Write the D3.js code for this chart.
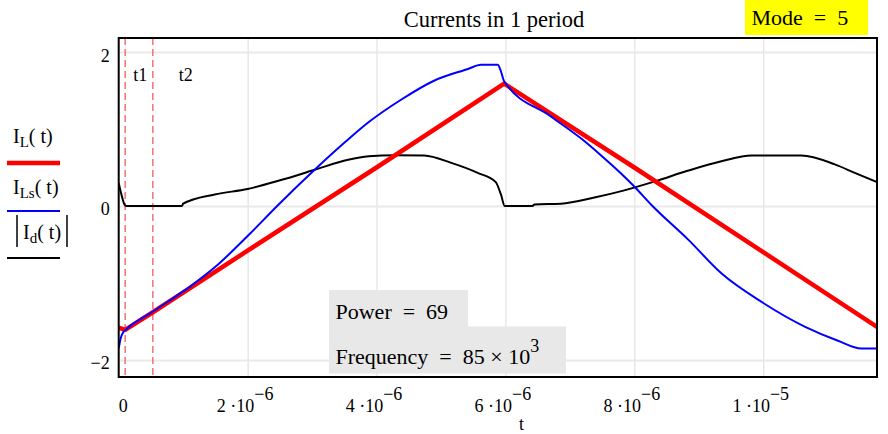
<!DOCTYPE html>
<meta charset="utf-8">
<title>Currents in 1 period</title>
<style>
body { margin: 0; background: #fff; }
svg { font-family: "Liberation Serif", "Times New Roman", serif; }
</style>
<body>
<script src="https://d3js.org/d3.v7.min.js"></script>
<script>
var width = 888, height = 434;
var period = 1 / 85e3;

// times in microseconds, currents in A
var tL  = [0, 0.1, 0.53, 2, 4, 5.98, 8, 10, 11.765];
var iL  = [-1.58, -1.61, -1.38, -0.58, 0.50, 1.59, 0.50, -0.60, -1.57];

var tLs = [0, 0.03, 0.07, 0.12, 0.53, 1.1, 1.5, 2, 2.47, 3.04, 3.5, 3.88, 4.38, 4.9, 5.42, 5.62, 5.88, 5.93, 5.98,
           6.71, 7.2, 7.48, 7.81, 7.98, 8.27, 8.84, 9.35, 10.0, 10.65, 11.16, 11.52, 11.765];
var iLs = [-1.85, -1.72, -1.64, -1.60, -1.37, -1.05, -0.79, -0.39, 0.01, 0.47, 0.82, 1.09, 1.38, 1.63, 1.78, 1.835, 1.835, 1.75, 1.62,
           1.16, 0.86, 0.66, 0.41, 0.27, 0.01, -0.44, -0.875, -1.26, -1.57, -1.75, -1.85, -1.85];

var tD  = [0, 0.03, 0.09, 0.12, 0.53, 0.98, 1.0, 1.49, 2, 2.53, 3.04, 3.56, 3.88, 4.28, 4.74, 5.16, 5.57, 5.85, 5.93, 5.99,
           6.42, 6.45, 6.86, 7.38, 7.83, 8.32, 8.84, 9.35, 9.82, 10.59, 11.11, 11.42, 11.765];
var iD  = [0.30, 0.19, 0.02, 0, 0, 0, 0.03, 0.15, 0.22, 0.34, 0.47, 0.60, 0.645, 0.66, 0.655, 0.56, 0.43, 0.31, 0.15, 0,
           0, 0.02, 0.03, 0.11, 0.20, 0.32, 0.46, 0.58, 0.655, 0.655, 0.54, 0.43, 0.31];

var markerT = [0.1, 0.53];
var markerNames = ["t1", "t2"];

var xTicks = [0, 2e-6, 4e-6, 6e-6, 8e-6, 1e-5];
var xTickText = [["0"], ["2 ·10", "−6"], ["4 ·10", "−6"], ["6 ·10", "−6"], ["8 ·10", "−6"], ["1 ·10", "−5"]];
var yTicks = [-2, 0, 2];

var power = 69, freqK = 85, mode = 5;

// plot box
var pL = 118.7, pR = 877, pT = 38, pB = 377;

var x = d3.scaleLinear().domain([0, period]).range([pL, pR]);
var y = d3.scaleLinear().domain([-2.221, 2.182]).range([pB, pT]);

var svg = d3.select("body").append("svg")
    .attr("width", width)
    .attr("height", height);

// grid
svg.append("g")
    .attr("transform", "translate(0," + pB + ")")
    .call(d3.axisBottom(x).tickValues(xTicks.slice(1)).tickSize(-(pB - pT)).tickFormat(""))
    .call(function(g) {
      g.select(".domain").remove();
      g.selectAll("line").attr("stroke", "#dcdcdc").attr("stroke-width", 1);
    });
svg.append("g")
    .attr("transform", "translate(" + pL + ",0)")
    .call(d3.axisLeft(y).tickValues(yTicks).tickSize(-(pR - pL)).tickFormat(""))
    .call(function(g) {
      g.select(".domain").remove();
      g.selectAll("line").attr("stroke", "#e9e9e9").attr("stroke-width", 2);
    });

// info boxes
svg.append("rect").attr("x", 329).attr("y", 290).attr("width", 139).attr("height", 37).attr("fill", "#e8e8e8");
svg.append("rect").attr("x", 329).attr("y", 326.5).attr("width", 237).attr("height", 47).attr("fill", "#e8e8e8");
svg.append("text").attr("x", 335.5).attr("y", 318.5).attr("font-size", 22)
    .attr("xml:space", "preserve").text("Power  =  " + power);
var fq = svg.append("text").attr("x", 335.5).attr("y", 363.5).attr("font-size", 22).attr("xml:space", "preserve");
fq.append("tspan").text("Frequency  =  " + freqK + " × 10");
fq.append("tspan").attr("dy", -12).attr("font-size", 18).text("3");

svg.append("clipPath").attr("id", "clip")
  .append("rect").attr("x", pL).attr("y", pT).attr("width", pR - pL).attr("height", pB - pT);

var plot = svg.append("g").attr("clip-path", "url(#clip)");

// markers
plot.selectAll(".marker").data(markerT).enter().append("line")
    .attr("x1", function(d) { return x(d * 1e-6); })
    .attr("x2", function(d) { return x(d * 1e-6); })
    .attr("y1", pT).attr("y2", pB)
    .attr("stroke", "#f05a5a").attr("stroke-width", 1.3)
    .attr("stroke-dasharray", "7,4");

var line = d3.line()
    .x(function(d) { return x(d[0] * 1e-6); })
    .y(function(d) { return y(d[1]); });
var smooth = d3.line()
    .curve(d3.curveMonotoneX)
    .x(function(d) { return x(d[0] * 1e-6); })
    .y(function(d) { return y(d[1]); });

function pairs(t, v) { return t.map(function(d, i) { return [d, v[i]]; }); }

plot.append("path").datum(pairs(tD, iD)).attr("d", smooth)
    .attr("fill", "none").attr("stroke", "#000").attr("stroke-width", 2);
plot.append("path").datum(pairs(tL, iL)).attr("d", line)
    .attr("fill", "none").attr("stroke", "#ff0000").attr("stroke-width", 4.5).attr("stroke-linejoin", "round");
plot.append("path").datum(pairs(tLs, iLs)).attr("d", smooth)
    .attr("fill", "none").attr("stroke", "#0000ff").attr("stroke-width", 2);

svg.selectAll(".mlabel").data(markerNames).enter().append("text")
    .attr("x", function(d, i) { return x(markerT[i] * 1e-6) + (i === 0 ? 8 : 26); })
    .attr("y", 81).attr("font-size", 18).text(function(d) { return d; });

// frame
svg.append("rect").attr("x", pL).attr("y", pT).attr("width", pR - pL).attr("height", pB - pT)
    .attr("fill", "none").attr("stroke", "#000").attr("stroke-width", 2);

// x tick labels
var xa = svg.append("g")
    .attr("transform", "translate(0," + pB + ")")
    .call(d3.axisBottom(x).tickValues(xTicks).tickSize(0).tickFormat(""));
xa.select(".domain").remove();
xa.selectAll(".tick text").each(function(d, i) {
  var t = d3.select(this).attr("y", 35).attr("dy", 0).attr("font-size", 18)
      .attr("font-family", "Liberation Serif").attr("fill", "#000")
      .attr("text-anchor", "middle").attr("x", i === 0 ? 4 : -3).attr("xml:space", "preserve");
  t.append("tspan").text(xTickText[i][0]);
  if (xTickText[i][1]) t.append("tspan").attr("dy", -12).text(xTickText[i][1]);
});

// y tick labels
var ya = svg.append("g")
    .attr("transform", "translate(" + pL + ",0)")
    .call(d3.axisLeft(y).tickValues(yTicks).tickSize(0)
      .tickFormat(function(d) { return d < 0 ? "−" + Math.abs(d) : d; }));
ya.select(".domain").remove();
ya.selectAll(".tick text").attr("x", -9).attr("dy", 9).attr("font-size", 18)
    .attr("font-family", "Liberation Serif").attr("fill", "#000");

svg.append("text").attr("x", 521.5).attr("y", 430).attr("font-size", 18).attr("text-anchor", "middle").text("t");

// title and mode
svg.append("text").attr("x", 494).attr("y", 27).attr("font-size", 22.5).attr("text-anchor", "middle")
    .text("Currents in 1 period");
svg.append("rect").attr("x", 745).attr("y", 0).attr("width", 123).attr("height", 35).attr("fill", "#ffff00");
svg.append("text").attr("x", 751.5).attr("y", 25).attr("font-size", 22).attr("xml:space", "preserve")
    .text("Mode  =  " + mode);

// legend
var legend = [
  {sub: "L", color: "#ff0000", w: 4.5, ty: 143, ly: 163, tx: 13},
  {sub: "Ls", color: "#0000ff", w: 2, ty: 194, ly: 211, tx: 13},
  {sub: "d", color: "#000", w: 2, ty: 239, ly: 258, tx: 23}
];
legend.forEach(function(l) {
  var t = svg.append("text").attr("x", l.tx).attr("y", l.ty).attr("font-size", 20).attr("xml:space", "preserve");
  t.append("tspan").text("I");
  t.append("tspan").attr("font-size", 15).attr("dy", 4).text(l.sub);
  t.append("tspan").attr("dy", -4).text("( t)");
  svg.append("line").attr("x1", 7).attr("x2", 60).attr("y1", l.ly).attr("y2", l.ly)
      .attr("stroke", l.color).attr("stroke-width", l.w);
});
[17, 67].forEach(function(bx) {
  svg.append("line").attr("x1", bx).attr("x2", bx).attr("y1", 215).attr("y2", 247)
      .attr("stroke", "#000").attr("stroke-width", 1.5);
});
</script>
</body>
